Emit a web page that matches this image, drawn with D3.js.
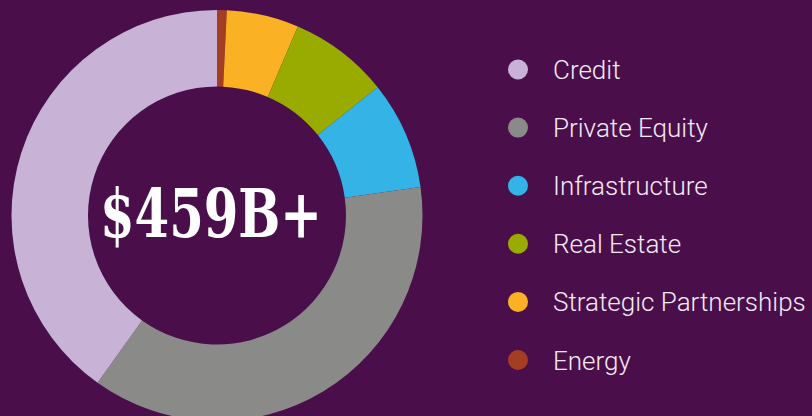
<!DOCTYPE html>
<html>
	<head>
		<meta charset="utf-8">
		<title>AUM donut</title>
		<style>
			html,body{margin:0;padding:0;background:#4a0f4b;overflow:hidden;}
		</style>
	</head>
	<body>
		<script src="https://cdn.jsdelivr.net/npm/d3@7/dist/d3.min.js" charset="utf-8"></script>
		<script>
			// legend order (top to bottom)
			var categories = ["Credit","Private Equity","Infrastructure","Real Estate","Strategic Partnerships","Energy"];
			var values = [184, 170, 39, 36, 26, 3.5];   // $B
			var colors = ["#c8b3d7","#8a8a88","#33b3e6","#9aab00","#fbb124","#a53d22"];
			var centerLabel = "$459B+";

			var W = 812, H = 416;
			var cx = 217, cy = 215.5, rOut = 205.5, rIn = 129;

			var svg = d3.select("body")
						.append("svg")
						.attr("width",W)
						.attr("height",H)

			svg.append("rect").attr("width",W).attr("height",H).attr("fill","#4a0f4b")

			var data = categories.map(function(c,i){
				return {name:c, value:values[i], color:colors[i]};
			});

			// pie starts at 12 o'clock with Energy, goes clockwise back up to Credit
			var pie = d3.pie()
						.sort(null)
						.value(function(d){ return d.value; })

			var arc = d3.arc()
						.innerRadius(rIn)
						.outerRadius(rOut)

			var g = svg.append("g")
						.attr("transform","translate("+cx+","+cy+")")

			g.selectAll("path")
				.data(pie(data.slice().reverse()))
				.enter()
				.append("path")
				.attr("d",arc)
				.attr("fill",function(d){ return d.data.color; })

			g.append("text")
				.attr("x",-6)
				.attr("y",21)
				.attr("text-anchor","middle")
				.attr("font-family","'DejaVu Serif'")
				.attr("font-weight","bold")
				.attr("font-size",67)
				.attr("textLength",222)
				.attr("lengthAdjust","spacingAndGlyphs")
				.attr("fill","#ffffff")
				.text(centerLabel)

			// legend
			var legendY = d3.scalePoint()
							.domain(categories)
							.range([69.5,360])

			var items = svg.selectAll(".legend")
							.data(data)
							.enter()
							.append("g")
							.attr("class","legend")
							.attr("transform",function(d){
								return "translate(518,"+legendY(d.name)+")";
							})

			items.append("circle")
				.attr("r",10)
				.attr("fill",function(d){ return d.color; })

			items.append("text")
				.attr("x",35)
				.attr("y",9.5)
				.attr("font-family","Roboto, 'Open Sans', sans-serif")
				.attr("font-weight",300)
				.attr("font-size",26)
				.attr("fill","#f3ebf3")
				.text(function(d){ return d.name; })

		</script>
	</body>
</html>
